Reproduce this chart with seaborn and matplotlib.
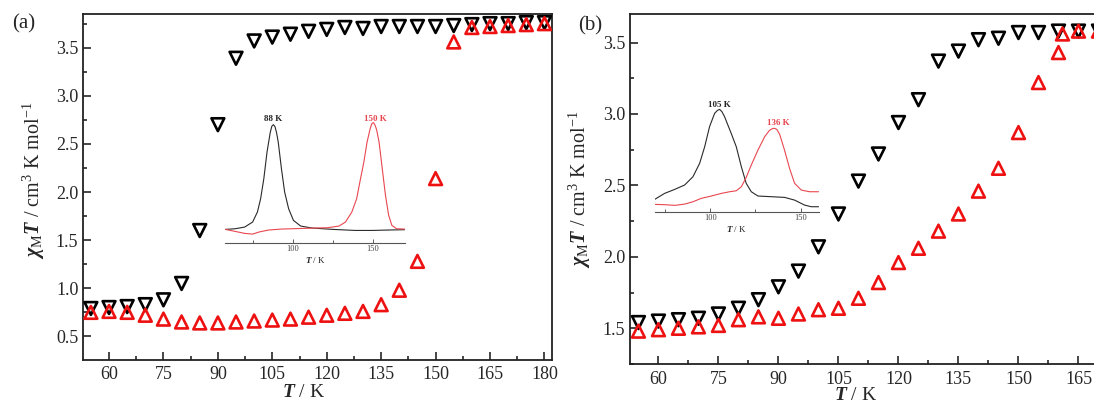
import numpy as np
import pandas as pd
import seaborn as sns
from matplotlib import pyplot as plt
from matplotlib.ticker import MultipleLocator

# ---- panel (a) data ----
temp_a = [55, 60, 65, 70, 75, 80, 85, 90, 95, 100, 105, 110, 115, 120, 125,
          130, 135, 140, 145, 150, 155, 160, 165, 170, 175, 180]
cool_a = [0.79, 0.80, 0.81, 0.83, 0.88, 1.05, 1.60, 2.70, 3.39, 3.57, 3.61, 3.64,
          3.67, 3.69, 3.71, 3.70, 3.72, 3.72, 3.72, 3.72, 3.73, 3.74, 3.75, 3.75,
          3.76, 3.76]
heat_a = [0.75, 0.76, 0.75, 0.72, 0.68, 0.65, 0.64, 0.64, 0.65, 0.66, 0.67, 0.68,
          0.70, 0.72, 0.74, 0.76, 0.83, 0.98, 1.28, 2.14, 3.56, 3.71, 3.72, 3.73,
          3.74, 3.75]

# ---- panel (b) data ----
temp_b_cool = [55, 60, 65, 70, 75, 80, 85, 90, 95, 100, 105, 110, 115, 120, 125,
               130, 135, 140, 145, 150, 155, 160, 165, 170]
cool_b = [1.54, 1.55, 1.56, 1.57, 1.60, 1.64, 1.70, 1.79, 1.90, 2.07, 2.30, 2.53,
          2.72, 2.94, 3.10, 3.37, 3.44, 3.52, 3.53, 3.57, 3.57, 3.58, 3.58, 3.58]
temp_b_heat = [55, 60, 65, 70, 75, 80, 85, 90, 95, 100, 105, 110, 115, 120, 125,
               130, 135, 140, 145, 150, 155, 160, 161, 165, 170]
heat_b = [1.48, 1.49, 1.50, 1.51, 1.52, 1.56, 1.58, 1.57, 1.60, 1.63, 1.64, 1.71,
          1.82, 1.96, 2.06, 2.18, 2.30, 2.46, 2.62, 2.87, 3.22, 3.43, 3.56, 3.58, 3.58]

# ---- insets (derivative curves, arbitrary units) ----
ins_a_t_black = [58, 64, 70, 75, 78, 80, 82, 84, 86, 87, 88, 89, 90, 91, 93, 95,
                 97.5, 100.5, 105, 112, 125, 139, 150, 160, 170]
ins_a_black = [0.0, 0.006, 0.022, 0.07, 0.166, 0.293, 0.484, 0.739, 0.925, 0.985,
               1.0, 0.98, 0.92, 0.834, 0.580, 0.357, 0.197, 0.086, 0.032, 0.013,
               0.0, -0.01, -0.01, -0.006, -0.003]
ins_a_t_red = [58, 64, 70, 75, 79, 85, 93, 108, 122, 129, 133, 137, 140, 142, 144.5,
               146.5, 148.5, 149.5, 150.5, 151.5, 152.5, 154, 156, 158, 160, 162,
               165, 170]
ins_a_red = [0.0, -0.019, -0.038, -0.045, -0.025, -0.006, 0.003, 0.01, 0.016, 0.032,
             0.07, 0.166, 0.293, 0.452, 0.643, 0.834, 0.965, 1.01, 1.02, 0.995,
             0.95, 0.834, 0.580, 0.325, 0.134, 0.038, 0.006, 0.003]

ins_b_t = [69.2, 74.7, 80.3, 85.8, 90.4, 94.1, 96.9, 99.6, 102.4, 104, 105.2, 106.5,
           107.9, 111.6, 114.4, 117.2, 119.9, 122.7, 126.4, 133.8, 141.1, 146.7,
           152.2, 155.9, 160]
ins_b_black = [0.075, 0.137, 0.178, 0.223, 0.308, 0.445, 0.616, 0.822, 0.959, 0.99,
               1.0, 0.975, 0.925, 0.753, 0.616, 0.411, 0.240, 0.154, 0.110, 0.103,
               0.096, 0.068, 0.017, 0.0, 0.0]
ins_b_t_red = [69.2, 74.7, 80.3, 85.8, 90.4, 95, 100.6, 106.1, 110.7, 114.4, 117.2,
               119.9, 122.7, 126.4, 130.1, 132.8, 134.5, 135.6, 136.8, 138.4, 141.1,
               143.9, 146.7, 150.4, 155, 160]
ins_b_red = [0.024, 0.021, 0.014, 0.027, 0.051, 0.086, 0.110, 0.137, 0.154, 0.164,
             0.205, 0.301, 0.428, 0.582, 0.719, 0.785, 0.803, 0.805, 0.795, 0.745,
             0.582, 0.394, 0.240, 0.171, 0.154, 0.154]

RED = '#ee1111'
INSET_RED = '#e8474f'


def style_main(ax, xlim, ylim, ylabel_y, xlabel_y):
    ax.set_xlim(*xlim)
    ax.set_ylim(*ylim)
    ax.xaxis.set_major_locator(MultipleLocator(15))
    ax.xaxis.set_minor_locator(MultipleLocator(7.5))
    ax.yaxis.set_major_locator(MultipleLocator(0.5))
    ax.yaxis.set_minor_locator(MultipleLocator(0.25))
    ax.tick_params(which='both', direction='in', labelsize=13, width=1.2,
                   top=False, right=False)
    ax.tick_params(axis='x', which='both', pad=5)
    ax.tick_params(which='major', length=6)
    ax.tick_params(which='minor', length=3)
    for sp in ax.spines.values():
        sp.set_linewidth(1.3)
        sp.set_color('#222222')
    ax.set_xlabel(r'$\mathbf{T}$ / K', fontsize=14)
    ax.set_ylabel(r'$\mathbf{\chi}_{\mathrm{M}}\mathbf{T}$ / cm$^3$ K mol$^{-1}$',
                  fontsize=14.5)
    ax.xaxis.set_label_coords(0.47, xlabel_y)
    ax.yaxis.set_label_coords(-0.077, ylabel_y)


def draw_points(ax, t_cool, v_cool, t_heat, v_heat):
    sns.scatterplot(x=t_cool, y=v_cool, marker='v', s=85, facecolor='none',
                    edgecolor='black', linewidth=1.9, ax=ax, zorder=3)
    sns.scatterplot(x=t_heat, y=v_heat, marker='^', s=85, facecolor='none',
                    edgecolor=RED, linewidth=1.9, ax=ax, zorder=4)


def style_inset(ax, xlim, ylim):
    ax.set_xlim(*xlim)
    ax.set_ylim(*ylim)
    ax.patch.set_alpha(0)
    for name in ['left', 'right', 'top']:
        ax.spines[name].set_visible(False)
    ax.spines['bottom'].set_linewidth(0.8)
    ax.spines['bottom'].set_color('#555555')
    ax.set_yticks([])
    ax.xaxis.set_major_locator(MultipleLocator(50))
    ax.xaxis.set_minor_locator(MultipleLocator(25))
    ax.tick_params(which='both', direction='in', labelsize=6, width=0.6,
                   colors='#444444', pad=2)
    ax.tick_params(which='major', length=3)
    ax.tick_params(which='minor', length=2)
    ax.set_xlabel(r'$\mathbf{T}$ / K', fontsize=6.5, labelpad=1)


def main():
    sns.set_style('ticks')
    plt.rcParams['font.family'] = ['Liberation Serif', 'DejaVu Serif']
    plt.rcParams['mathtext.fontset'] = 'custom'
    plt.rcParams['mathtext.rm'] = 'Liberation Serif'
    plt.rcParams['mathtext.it'] = 'Liberation Serif:italic'
    plt.rcParams['mathtext.bf'] = 'Liberation Serif:bold:italic'

    fig = plt.figure(figsize=(10.94, 4.03), dpi=100)

    ax_a = fig.add_axes([0.0761, 0.1079, 0.4282, 0.8573])
    draw_points(ax_a, temp_a, cool_a, temp_a, heat_a)
    style_main(ax_a, (52.9, 182.0), (0.26, 3.85), 0.52, -0.072)
    fig.text(0.011, 0.94, '(a)', fontsize=15, ha='left', va='center')

    ax_b = fig.add_axes([0.5759, 0.0968, 0.4388, 0.8685])
    draw_points(ax_b, temp_b_cool, cool_b, temp_b_heat, heat_b)
    style_main(ax_b, (52.9, 172.9), (1.25, 3.70), 0.5, -0.066)
    ax_b.spines['right'].set_visible(False)
    fig.text(0.528, 0.935, '(b)', fontsize=15, ha='left', va='center')

    in_a = fig.add_axes([0.2059, 0.3978, 0.1640, 0.3243])
    sns.lineplot(x=ins_a_t_black, y=ins_a_black, color='#2a2a2a', lw=0.8, ax=in_a)
    sns.lineplot(x=ins_a_t_red, y=ins_a_red, color=INSET_RED, lw=0.8, ax=in_a)
    style_inset(in_a, (57.9, 170), (-0.127, 1.121))
    in_a.text(88, 1.05, '88 K', fontsize=6.5, fontweight='bold', ha='center', va='center')
    in_a.text(151.5, 1.05, '150 K', fontsize=6.5, fontweight='bold', color=INSET_RED,
              ha='center', va='center')

    in_b = fig.add_axes([0.5984, 0.4747, 0.1499, 0.3020])
    sns.lineplot(x=ins_b_t, y=ins_b_black, color='#2a2a2a', lw=0.8, ax=in_b)
    sns.lineplot(x=ins_b_t_red, y=ins_b_red, color=INSET_RED, lw=0.8, ax=in_b)
    style_inset(in_b, (69.2, 160), (-0.051, 1.199))
    in_b.text(105.2, 1.045, '105 K', fontsize=6.5, fontweight='bold', ha='center', va='center')
    in_b.text(137.5, 0.86, '136 K', fontsize=6.5, fontweight='bold', color=INSET_RED,
              ha='center', va='center')

    fig.savefig('out.png', dpi=100)


if __name__ == '__main__':
    main()
